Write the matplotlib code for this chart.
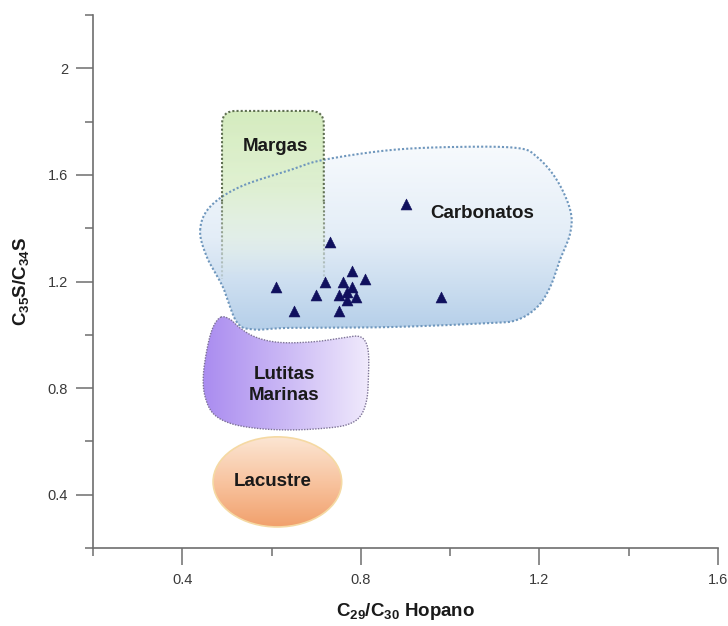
import numpy as np
import matplotlib
matplotlib.use("Agg")
import matplotlib.pyplot as plt
from matplotlib.path import Path
from matplotlib.patches import PathPatch, Ellipse
from matplotlib.colors import to_rgba

plt.rcParams['font.family'] = ['Liberation Sans', 'DejaVu Sans']
plt.rcParams['mathtext.default'] = 'regular'

# Sample measurements
hopane_ratio = [0.90, 0.73, 0.61, 0.72, 0.70, 0.65, 0.75, 0.81, 0.78,
                0.76, 0.78, 0.75, 0.77, 0.79, 0.77, 0.98]
homohopane_ratio = [1.49, 1.35, 1.18, 1.20, 1.15, 1.09, 1.09, 1.21, 1.24,
                    1.20, 1.18, 1.15, 1.16, 1.14, 1.13, 1.14]

x_major = [0.4, 0.8, 1.2, 1.6]
x_minor = [0.2, 0.6, 1.0, 1.4]
y_major = [0.4, 0.8, 1.2, 1.6, 2.0]
y_minor = [0.2, 0.6, 1.0, 1.4, 1.8, 2.2]
x_labels = ['0.4', '0.8', '1.2', '1.6']
y_labels = ['0.4', '0.8', '1.2', '1.6', '2']

# Depositional-environment fields (outline control points)
carbonatos_outline = [
    (0.440, 1.393), (0.462, 1.480), (0.529, 1.555), (0.641, 1.618),
    (0.715, 1.656), (0.865, 1.693), (1.015, 1.705), (1.150, 1.701),
    (1.195, 1.667), (1.239, 1.581), (1.269, 1.468), (1.269, 1.382),
    (1.246, 1.281), (1.224, 1.179), (1.195, 1.104), (1.150, 1.056),
    (1.089, 1.044), (0.865, 1.029), (0.641, 1.026), (0.560, 1.020),
    (0.522, 1.048), (0.491, 1.179), (0.455, 1.292)]
lutitas_outline = [
    (0.486, 1.066), (0.507, 1.058), (0.529, 1.026), (0.559, 0.995),
    (0.597, 0.976), (0.641, 0.970), (0.701, 0.975), (0.753, 0.987),
    (0.791, 0.995), (0.809, 0.978), (0.817, 0.931), (0.817, 0.843),
    (0.813, 0.755), (0.798, 0.693), (0.768, 0.662), (0.716, 0.649),
    (0.641, 0.643), (0.567, 0.649), (0.507, 0.668), (0.469, 0.705),
    (0.451, 0.768), (0.447, 0.843), (0.455, 0.943), (0.468, 1.025)]
margas_box = (0.489, 0.717, 1.21, 1.84)      # x0, x1, y_bottom, y_top
lacustre_ellipse = (0.613, 0.448, 0.288, 0.338)  # cx, cy, width, height


def closed_spline(points, n=24):
    p = np.asarray(points, float)
    m = len(p)
    out = []
    t = np.linspace(0, 1, n, endpoint=False)[:, None]
    for i in range(m):
        p0, p1, p2, p3 = p[i - 1], p[i], p[(i + 1) % m], p[(i + 2) % m]
        seg = 0.5 * ((2 * p1) + (-p0 + p2) * t +
                     (2 * p0 - 5 * p1 + 4 * p2 - p3) * t ** 2 +
                     (-p0 + 3 * p1 - 3 * p2 + p3) * t ** 3)
        out.append(seg)
    out = np.vstack(out)
    return np.vstack([out, out[:1]])


def gradient_fill(ax, patch, stops, extent, vertical=True, z=1):
    n = 256
    t = np.linspace(0, 1, n)
    pos = np.array([s[0] for s in stops])
    cols = np.array([to_rgba(s[1], s[2] if len(s) > 2 else 1.0) for s in stops])
    rgba = np.stack([np.interp(t, pos, cols[:, k]) for k in range(4)], axis=1)
    img = rgba[:, None, :] if vertical else rgba[None, :, :]
    im = ax.imshow(img, extent=extent, origin='upper', aspect='auto',
                   interpolation='bilinear', zorder=z)
    im.set_clip_path(patch)
    return im


fig = plt.figure(figsize=(7.28, 6.26), dpi=100)
ax = fig.add_axes([93 / 728, 1 - 548 / 626, 625 / 728, 533 / 626])

# Carbonatos field
cv = closed_spline(carbonatos_outline)
carb_path = Path(cv, closed=True)
carb_patch = PathPatch(carb_path, fc='none', ec='none', zorder=1)
ax.add_patch(carb_patch)
gradient_fill(ax, carb_patch,
              [(0.0, '#f7fafd'), (0.5, '#e3edf7'), (1.0, '#b5cfe9')],
              (cv[:, 0].min(), cv[:, 0].max(), cv[:, 1].min(), cv[:, 1].max()),
              z=1)

# Margas field (rounded top, fading downward)
x0, x1, yb, yt = margas_box
rx, ry = 0.03, 0.05
mv = [(x0, yb), (x0, yt - ry), (x0, yt), (x0 + rx, yt), (x1 - rx, yt),
      (x1, yt), (x1, yt - ry), (x1, yb), (x0, yb)]
mc = [Path.MOVETO, Path.LINETO, Path.CURVE3, Path.CURVE3, Path.LINETO,
      Path.CURVE3, Path.CURVE3, Path.LINETO, Path.CLOSEPOLY]
marg_patch = PathPatch(Path(mv, mc), fc='none', ec='none', zorder=2)
ax.add_patch(marg_patch)
gradient_fill(ax, marg_patch,
              [(0.0, '#d5ecbf', 1.0), (0.45, '#dbefca', 0.85), (1.0, '#e4f2d8', 0.0)],
              (x0, x1, yb, yt), z=2)

# Carbonatos border
ax.plot(cv[:, 0], cv[:, 1], ls=(0, (1, 1)), color='#6f97bd', lw=1.5, zorder=3)

# Margas border: dotted top, fading sides
y_fade = 1.50
top_v = [(x0, y_fade), (x0, yt - ry), (x0, yt), (x0 + rx, yt), (x1 - rx, yt),
         (x1, yt), (x1, yt - ry), (x1, y_fade)]
top_c = [Path.MOVETO, Path.LINETO, Path.CURVE3, Path.CURVE3, Path.LINETO,
         Path.CURVE3, Path.CURVE3, Path.LINETO]
ax.add_patch(PathPatch(Path(top_v, top_c), fc='none', ec='#5f6f52', lw=1.5,
                       ls=(0, (1, 1)), zorder=3))
edges = np.linspace(y_fade, yb, 7)
for k in range(6):
    a = 1.0 - (k + 1) / 8
    for xx in (x0, x1):
        ax.plot([xx, xx], [edges[k], edges[k + 1]], ls=(0, (1, 1)),
                color='#6b7a60', alpha=a, lw=1.5, zorder=3)

# Lutitas Marinas field
lv = closed_spline(lutitas_outline)
lut_patch = PathPatch(Path(lv, closed=True), fc='none', ec='none', zorder=1)
ax.add_patch(lut_patch)
gradient_fill(ax, lut_patch,
              [(0.0, '#aa8cf0'), (0.5, '#cbb9f5'), (1.0, '#f0eafc')],
              (lv[:, 0].min(), lv[:, 0].max(), lv[:, 1].min(), lv[:, 1].max()),
              vertical=False, z=1)
ax.plot(lv[:, 0], lv[:, 1], ls=(0, (1, 1)), color='#7d7396', lw=1.0, zorder=3)

# Lacustre field
cx, cy, w, h = lacustre_ellipse
lac_patch = Ellipse((cx, cy), w, h, fc='none', ec='#f5d9a3', lw=1.2, zorder=3)
ax.add_patch(lac_patch)
gradient_fill(ax, lac_patch,
              [(0.0, '#fce6d4'), (0.5, '#f8c4a0'), (1.0, '#f1a06c')],
              (cx - w / 2, cx + w / 2, cy - h / 2, cy + h / 2), z=1)

# Field labels
lab = dict(fontsize=13.5, fontweight='bold', color='#1a1a1a',
           ha='center', va='center', zorder=5)
ax.text(0.608, 1.705, 'Margas', **lab)
ax.text(1.071, 1.457, 'Carbonatos', **lab)
ax.text(0.628, 0.812, 'Lutitas\nMarinas', linespacing=1.3, **lab)
ax.text(0.603, 0.451, 'Lacustre', **lab)

# Samples
ax.scatter(hopane_ratio, homohopane_ratio, marker='^', s=62,
           color='#10105e', edgecolors='#10105e', linewidths=0.4, zorder=6)

ax.set_xlim(0.2, 1.6)
ax.set_ylim(0.2, 2.2)

for side in ('top', 'right'):
    ax.spines[side].set_visible(False)
for side in ('left', 'bottom'):
    ax.spines[side].set_color('#6e6e6e')
    ax.spines[side].set_linewidth(1.2)

ax.set_xticks(x_major)
ax.set_xticklabels(x_labels)
ax.set_xticks(x_minor, minor=True)
ax.set_yticks(y_major)
ax.set_yticklabels(y_labels)
ax.set_yticks(y_minor, minor=True)
ax.tick_params(which='major', length=12, width=1.1, color='#6e6e6e',
               labelsize=10.5, labelcolor='#3a3a3a', pad=6)
ax.tick_params(which='minor', length=6, width=1.1, color='#6e6e6e')

ax.set_xlabel('C$_{29}$/C$_{30}$ Hopano', fontsize=13.5, fontweight='bold',
              color='#1a1a1a', labelpad=10)
ax.set_ylabel('C$_{35}$S/C$_{34}$S', fontsize=13.5, fontweight='bold',
              color='#1a1a1a', labelpad=12)

fig.savefig('out.png', dpi=100)
